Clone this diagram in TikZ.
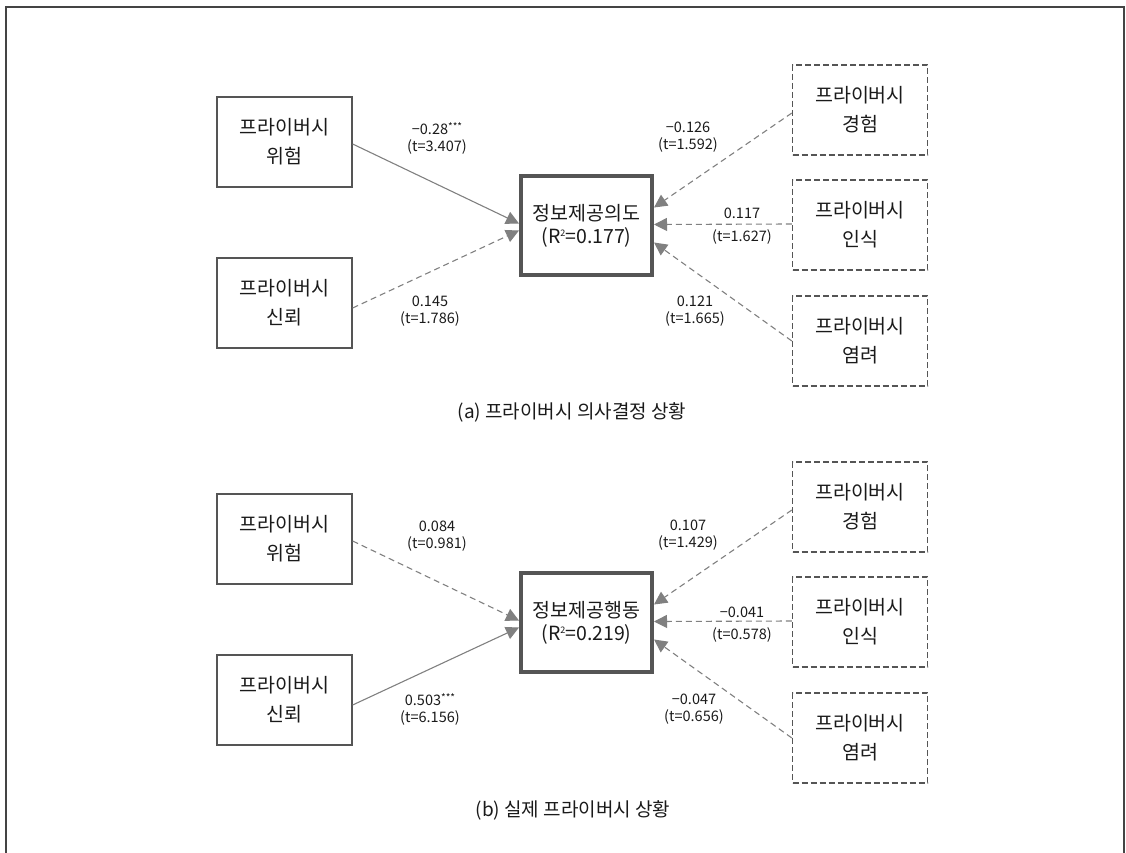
\documentclass[tikz,border=0pt]{standalone}
\usepackage{fontspec}
\setmainfont{Noto Sans CJK KR}
\usetikzlibrary{arrows.meta,calc}
\definecolor{boxline}{HTML}{555555}
\definecolor{arrline}{HTML}{808080}
\definecolor{txt}{HTML}{1a1a1a}
\newcommand{\sqsup}{\raisebox{0.62ex}{\fontsize{9}{9}\selectfont 2}}
\newcommand{\stars}{\raisebox{0.5ex}{\fontsize{10}{10}\selectfont ***}}
\tikzset{
  varbox/.style={draw=boxline, line width=1.3pt, minimum width=135pt, minimum height=90pt,
    align=center, text=txt, font=\fontsize{19.5}{29}\selectfont, inner sep=0pt},
  dbox/.style={varbox, dash pattern=on 6pt off 3pt},
  cbox/.style={draw=boxline, line width=4pt, minimum width=131pt, minimum height=99pt,
    align=center, text=txt, font=\fontsize{19.5}{23}\selectfont, inner sep=0pt},
  spath/.style={draw=arrline, line width=1.1pt, -{Triangle[length=13pt,width=13pt]}, arrline},
  dpath/.style={spath, dash pattern=on 6pt off 4pt},
  lbl/.style={align=center, text=txt, font=\fontsize{14.5}{17}\selectfont, inner sep=0pt},
  captxt/.style={text=txt, font=\fontsize{19}{22}\selectfont, inner sep=0pt}
}
\begin{document}
\begin{tikzpicture}[x=1pt,y=-1pt]
\useasboundingbox (0,0) rectangle (1126,853);
\draw[line width=2pt, color=boxline!80!black] (6,853) -- (6,7) -- (1124,7) -- (1124,853);

% ---------- (a) ----------
\node[varbox] (alt) at (284.5,142) {프라이버시\\위험};
\node[varbox] (alb) at (284.5,303) {프라이버시\\신뢰};
\node[cbox] (ac) at (586.5,225.5) {정보제공의도\\(R\sqsup=0.177)};
\node[dbox] (ar1) at (860,110) {프라이버시\\경험};
\node[dbox] (ar2) at (860,225) {프라이버시\\인식};
\node[dbox] (ar3) at (860,341) {프라이버시\\염려};

\draw[spath] ($(alt.east)+(0,2)$) -- ($(ac.west)+(0,-2)$);
\draw[dpath] ($(alb.east)+(0,5)$) -- ($(ac.west)+(0,5)$);
\draw[dpath] ($(ar1.west)+(0,3)$) -- ($(ac.east)+(0,-18)$);
\draw[dpath] ($(ar2.west)+(0,-1)$) -- ($(ac.east)+(0,-1)$);
\draw[dpath] (ar3.west) -- ($(ac.east)+(0,17)$);

\node[lbl] (al1) at (437,138) {−0.28\stars\\(t=3.407)};
\node[lbl] (al2) at (430,311) {0.145\\(t=1.786)};
\node[lbl] (al3) at (688,137) {−0.126\\(t=1.592)};
\node[lbl] (al4a) at (742,213) {0.117};
\node[lbl] (al4b) at (742,237) {(t=1.627)};
\node[lbl] (al5) at (695,311) {0.121\\(t=1.665)};

\node[captxt] (capa) at (572,412) {(a) 프라이버시 의사결정 상황};

% ---------- (b) ----------
\node[varbox] (blt) at (284.5,539) {프라이버시\\위험};
\node[varbox] (blb) at (284.5,700) {프라이버시\\신뢰};
\node[cbox] (bc) at (586.5,622.5) {정보제공행동\\(R\sqsup=0.219)};
\node[dbox] (br1) at (860,507) {프라이버시\\경험};
\node[dbox] (br2) at (860,622) {프라이버시\\인식};
\node[dbox] (br3) at (860,738) {프라이버시\\염려};

\draw[dpath] ($(blt.east)+(0,2)$) -- ($(bc.west)+(0,-2)$);
\draw[spath] ($(blb.east)+(0,5)$) -- ($(bc.west)+(0,5)$);
\draw[dpath] ($(br1.west)+(0,3)$) -- ($(bc.east)+(0,-18)$);
\draw[dpath] ($(br2.west)+(0,-1)$) -- ($(bc.east)+(0,-1)$);
\draw[dpath] (br3.west) -- ($(bc.east)+(0,17)$);

\node[lbl] (bl1) at (437,536) {0.084\\(t=0.981)};
\node[lbl] (bl2) at (430,709) {0.503\stars\\(t=6.156)};
\node[lbl] (bl3) at (688,535) {0.107\\(t=1.429)};
\node[lbl] (bl4a) at (742,612) {−0.041};
\node[lbl] (bl4b) at (742,635) {(t=0.578)};
\node[lbl] (bl5) at (694,709) {−0.047\\(t=0.656)};

\node[captxt] (capb) at (573,810) {(b) 실제 프라이버시 상황};
\end{tikzpicture}
\end{document}
